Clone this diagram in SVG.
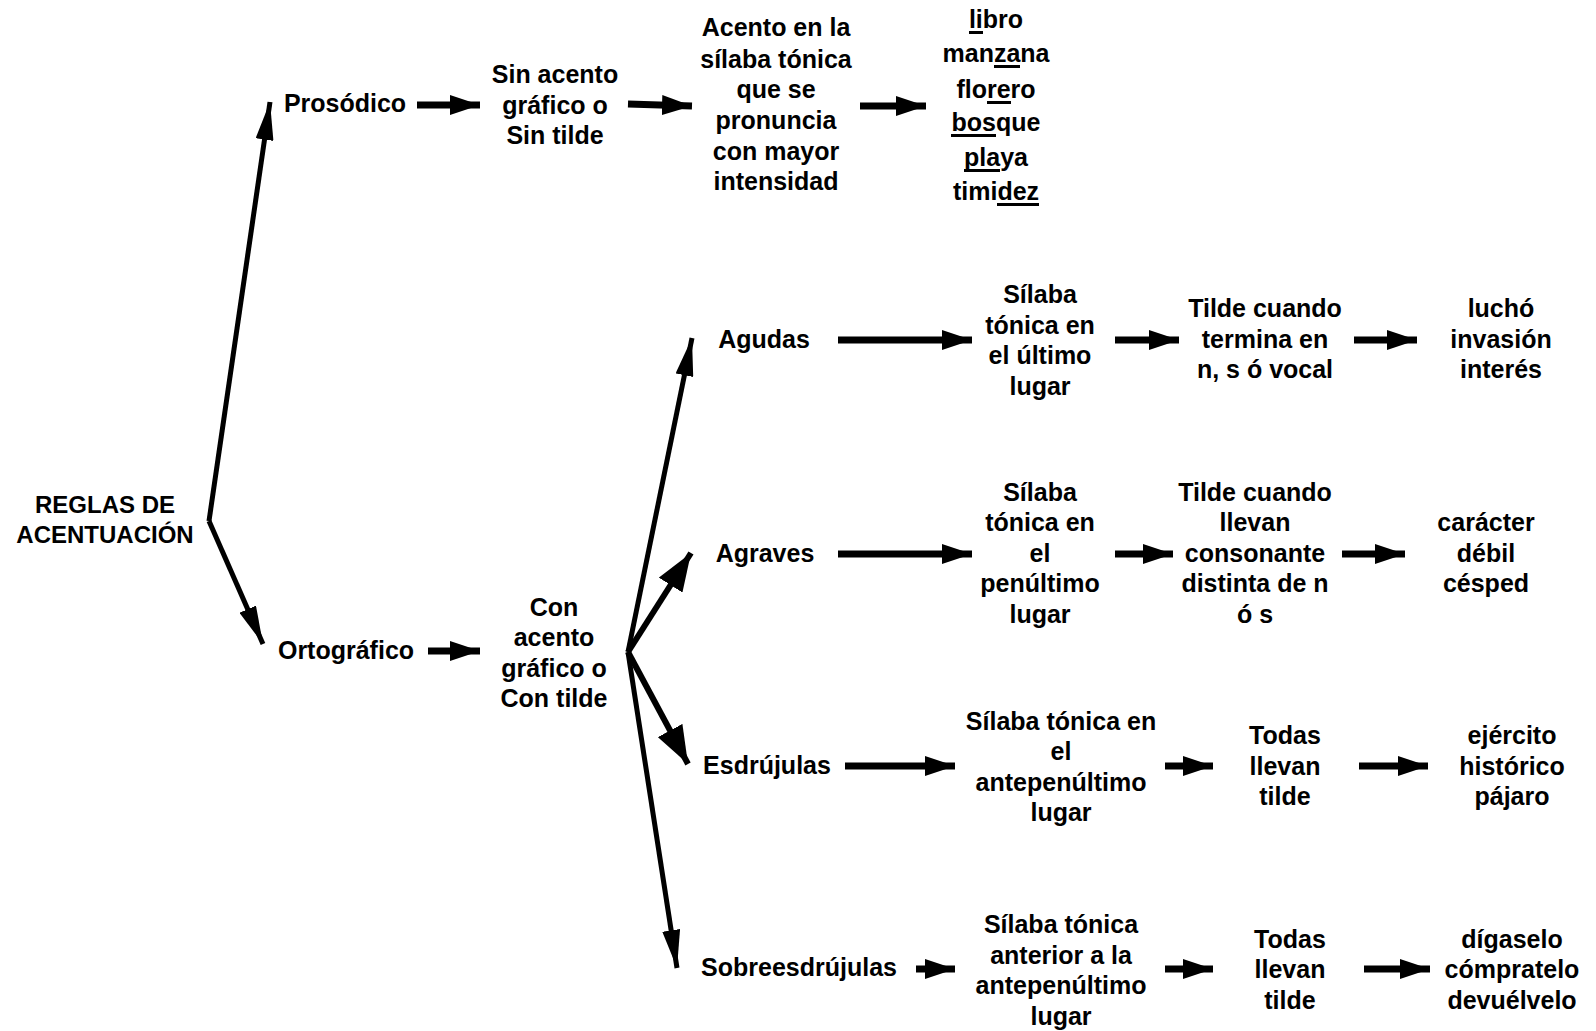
<svg xmlns="http://www.w3.org/2000/svg" width="1596" height="1031" viewBox="0 0 1596 1031">
  <style>
    text { font-family: "Liberation Sans", Arial, sans-serif; font-weight: bold; font-size: 25px; fill: #000; text-anchor: middle; }
    .root { font-size: 24px; }
    .ul { stroke: #000; stroke-width: 3; }
    .bar { stroke: #000; stroke-width: 7; fill: none; }
    .fan { stroke: #000; stroke-width: 5; fill: none; }
    .fat { stroke: #000; stroke-width: 6; fill: none; }
  </style>
  <defs>
    <!-- block arrowhead for the horizontal chains -->
    <marker id="head" markerUnits="userSpaceOnUse" viewBox="0 0 30 20" refX="30" refY="10" markerWidth="30" markerHeight="20" orient="auto">
      <path d="M0,0 L30,10 L0,20 Z" fill="#000"/>
    </marker>
    <!-- long narrow arrowhead for the slanted branches -->
    <marker id="headSlim" markerUnits="userSpaceOnUse" viewBox="0 0 38 18" refX="38" refY="9" markerWidth="38" markerHeight="18" orient="auto">
      <path d="M0,0 L38,9 L0,18 Z" fill="#000"/>
    </marker>
    <!-- broad arrowhead for the short slanted branches -->
    <marker id="headWide" markerUnits="userSpaceOnUse" viewBox="0 0 38 28" refX="38" refY="14" markerWidth="38" markerHeight="28" orient="auto">
      <path d="M0,0 L38,14 L0,28 Z" fill="#000"/>
    </marker>
  </defs>
  <rect width="1596" height="1031" fill="#fff"/>

  <g id="connectors">
    <!-- root branches -->
    <line class="fan" x1="209" y1="521" x2="270" y2="102" marker-end="url(#headSlim)"/>
    <line class="fan" x1="209" y1="521" x2="263" y2="644" marker-end="url(#headSlim)"/>
    <!-- prosodic chain -->
    <line class="bar" x1="417" y1="105" x2="480" y2="105" marker-end="url(#head)"/>
    <line class="bar" x1="628" y1="104" x2="692" y2="106" marker-end="url(#head)"/>
    <line class="bar" x1="860" y1="106" x2="926" y2="106" marker-end="url(#head)"/>
    <!-- orthographic chain -->
    <line class="bar" x1="428" y1="651" x2="480" y2="651" marker-end="url(#head)"/>
    <!-- fan to the four word types -->
    <line class="fan" x1="628" y1="652" x2="692" y2="338" marker-end="url(#headSlim)"/>
    <line class="fat" x1="628" y1="652" x2="691" y2="553" marker-end="url(#headWide)"/>
    <line class="fat" x1="628" y1="652" x2="688" y2="764" marker-end="url(#headWide)"/>
    <line class="fan" x1="628" y1="652" x2="677" y2="968" marker-end="url(#headSlim)"/>
    <!-- agudas row -->
    <line class="bar" x1="838" y1="340" x2="972" y2="340" marker-end="url(#head)"/>
    <line class="bar" x1="1115" y1="340" x2="1179" y2="340" marker-end="url(#head)"/>
    <line class="bar" x1="1354" y1="340" x2="1417" y2="340" marker-end="url(#head)"/>
    <!-- graves row -->
    <line class="bar" x1="838" y1="554" x2="972" y2="554" marker-end="url(#head)"/>
    <line class="bar" x1="1115" y1="554" x2="1173" y2="554" marker-end="url(#head)"/>
    <line class="bar" x1="1342" y1="554" x2="1405" y2="554" marker-end="url(#head)"/>
    <!-- esdrujulas row -->
    <line class="bar" x1="845" y1="766" x2="955" y2="766" marker-end="url(#head)"/>
    <line class="bar" x1="1165" y1="766" x2="1213" y2="766" marker-end="url(#head)"/>
    <line class="bar" x1="1359" y1="766" x2="1428" y2="766" marker-end="url(#head)"/>
    <!-- sobreesdrujulas row -->
    <line class="bar" x1="916" y1="969" x2="955" y2="969" marker-end="url(#head)"/>
    <line class="bar" x1="1165" y1="969" x2="1213" y2="969" marker-end="url(#head)"/>
    <line class="bar" x1="1364" y1="969" x2="1430" y2="969" marker-end="url(#head)"/>
  </g>

  <g id="root">
    <text class="root" x="105" y="513">REGLAS DE</text>
    <text class="root" x="105" y="543">ACENTUACIÓN</text>
  </g>

  <g id="prosodico"><text x="345" y="112">Prosódico</text></g>
  <g id="sin-tilde">
    <text x="555" y="83">Sin acento</text>
    <text x="555" y="114">gráfico o</text>
    <text x="555" y="144">Sin tilde</text>
  </g>
  <g id="acento-definicion">
    <text x="776" y="36">Acento en la</text>
    <text x="776" y="68">sílaba tónica</text>
    <text x="776" y="98">que se</text>
    <text x="776" y="129">pronuncia</text>
    <text x="776" y="160">con mayor</text>
    <text x="776" y="190">intensidad</text>
  </g>
  <g id="ejemplos-prosodico">
    <text x="996" y="28">libro</text>
    <text x="996" y="62">manzana</text>
    <text x="996" y="98">florero</text>
    <text x="996" y="131">bosque</text>
    <text x="996" y="166">playa</text>
    <text x="996" y="200">timidez</text>
    <!-- stressed syllables -->
    <line class="ul" x1="969" y1="32.5" x2="983" y2="32.5"/>
    <line class="ul" x1="994" y1="66.5" x2="1020" y2="66.5"/>
    <line class="ul" x1="987" y1="102.5" x2="1011" y2="102.5"/>
    <line class="ul" x1="951" y1="135.5" x2="996" y2="135.5"/>
    <line class="ul" x1="964" y1="170.5" x2="1000" y2="170.5"/>
    <line class="ul" x1="997" y1="204.5" x2="1039" y2="204.5"/>
  </g>

  <g id="ortografico"><text x="346" y="659">Ortográfico</text></g>
  <g id="con-tilde">
    <text x="554" y="616">Con</text>
    <text x="554" y="646">acento</text>
    <text x="554" y="677">gráfico o</text>
    <text x="554" y="707">Con tilde</text>
  </g>

  <g id="agudas"><text x="764" y="348">Agudas</text></g>
  <g id="agudas-silaba">
    <text x="1040" y="303">Sílaba</text>
    <text x="1040" y="334">tónica en</text>
    <text x="1040" y="364">el último</text>
    <text x="1040" y="395">lugar</text>
  </g>
  <g id="agudas-regla">
    <text x="1265" y="317">Tilde cuando</text>
    <text x="1265" y="348">termina en</text>
    <text x="1265" y="378">n, s ó vocal</text>
  </g>
  <g id="agudas-ejemplos">
    <text x="1501" y="317">luchó</text>
    <text x="1501" y="348">invasión</text>
    <text x="1501" y="378">interés</text>
  </g>

  <g id="graves"><text x="765" y="562">Agraves</text></g>
  <g id="graves-silaba">
    <text x="1040" y="501">Sílaba</text>
    <text x="1040" y="531">tónica en</text>
    <text x="1040" y="562">el</text>
    <text x="1040" y="592">penúltimo</text>
    <text x="1040" y="623">lugar</text>
  </g>
  <g id="graves-regla">
    <text x="1255" y="501">Tilde cuando</text>
    <text x="1255" y="531">llevan</text>
    <text x="1255" y="562">consonante</text>
    <text x="1255" y="592">distinta de n</text>
    <text x="1255" y="623">ó s</text>
  </g>
  <g id="graves-ejemplos">
    <text x="1486" y="531">carácter</text>
    <text x="1486" y="562">débil</text>
    <text x="1486" y="592">césped</text>
  </g>

  <g id="esdrujulas"><text x="767" y="774">Esdrújulas</text></g>
  <g id="esdrujulas-silaba">
    <text x="1061" y="730">Sílaba tónica en</text>
    <text x="1061" y="760">el</text>
    <text x="1061" y="791">antepenúltimo</text>
    <text x="1061" y="821">lugar</text>
  </g>
  <g id="esdrujulas-regla">
    <text x="1285" y="744">Todas</text>
    <text x="1285" y="775">llevan</text>
    <text x="1285" y="805">tilde</text>
  </g>
  <g id="esdrujulas-ejemplos">
    <text x="1512" y="744">ejército</text>
    <text x="1512" y="775">histórico</text>
    <text x="1512" y="805">pájaro</text>
  </g>

  <g id="sobreesdrujulas"><text x="799" y="976">Sobreesdrújulas</text></g>
  <g id="sobreesdrujulas-silaba">
    <text x="1061" y="933">Sílaba tónica</text>
    <text x="1061" y="964">anterior a la</text>
    <text x="1061" y="994">antepenúltimo</text>
    <text x="1061" y="1025">lugar</text>
  </g>
  <g id="sobreesdrujulas-regla">
    <text x="1290" y="948">Todas</text>
    <text x="1290" y="978">llevan</text>
    <text x="1290" y="1009">tilde</text>
  </g>
  <g id="sobreesdrujulas-ejemplos">
    <text x="1512" y="948">dígaselo</text>
    <text x="1512" y="978">cómpratelo</text>
    <text x="1512" y="1009">devuélvelo</text>
  </g>
</svg>
